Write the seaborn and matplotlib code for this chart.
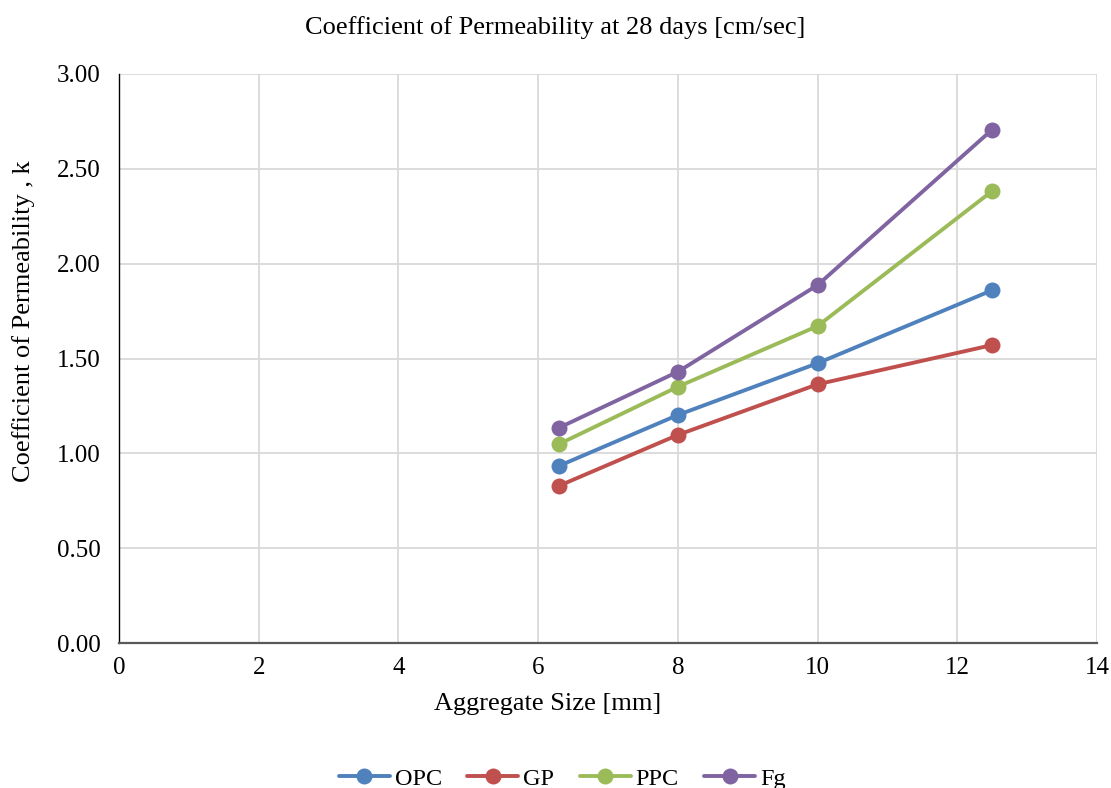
import matplotlib
matplotlib.use("Agg")
import matplotlib.pyplot as plt
import seaborn as sns
import pandas as pd

# Data
aggregate_size = [6.3, 8, 10, 12.5]
opc = [0.934, 1.202, 1.475, 1.860]
gp = [0.829, 1.097, 1.364, 1.571]
ppc = [1.049, 1.351, 1.671, 2.383]
fg = [1.135, 1.430, 1.887, 2.707]
series_names = ["OPC", "GP", "PPC", "Fg"]
colors = ["#4F81BD", "#C0504D", "#9BBB59", "#8064A2"]

rows = []
for name, vals in zip(series_names, [opc, gp, ppc, fg]):
    for x, y in zip(aggregate_size, vals):
        rows.append({"Aggregate Size": x, "k": y, "Series": name})
df = pd.DataFrame(rows)

sns.set_theme(style="white")
plt.rcParams["font.family"] = ["Liberation Serif", "DejaVu Serif"]
plt.rcParams["text.color"] = "black"
plt.rcParams["axes.labelcolor"] = "black"

fig = plt.figure(figsize=(11.11, 7.88), dpi=100)
ax = fig.add_axes([119/1111, 1 - 643/788, (1097-119)/1111, (643-74)/788])

sns.lineplot(data=df, x="Aggregate Size", y="k", hue="Series",
             hue_order=series_names, palette=colors, marker="o",
             markersize=11.5, markeredgewidth=0, linewidth=2.8, ax=ax,
             legend=True)

yt = [0, 0.5, 1.0, 1.5, 2.0, 2.5, 3.0]
ax.set_xlim(0, 14)
ax.set_ylim(0, 3.0)
ax.set_xticks(range(0, 15, 2))
ax.set_yticks(yt)
ax.set_yticklabels([f"{v:.2f}" for v in yt])
ax.grid(True, color="#D9D9D9", linewidth=1.3)
ax.set_axisbelow(True)
for s in ["top", "right"]:
    ax.spines[s].set_visible(False)
ax.spines["left"].set_color("black")
ax.spines["left"].set_linewidth(1.0)
ax.spines["bottom"].set_color("#595959")
ax.spines["bottom"].set_linewidth(1.6)
ax.tick_params(axis="both", labelsize=18, length=0, colors="black")
ax.tick_params(axis="x", pad=10)
ax.tick_params(axis="y", pad=13)

ax.set_xlabel("Aggregate Size [mm]", fontsize=19)
ax.set_ylabel("Coefficient of Permeability , k", fontsize=19)
ax.xaxis.set_label_coords(0.438, -0.088)
ax.yaxis.set_label_coords(-0.086, 0.566)
fig.text(0.5, 1 - 28/788, "Coefficient of Permeability at 28 days [cm/sec]",
         ha="center", va="center", fontsize=19)

handles, labels = ax.get_legend_handles_labels()
ax.get_legend().remove()
fig.legend(handles, labels, loc="center", bbox_to_anchor=(0.506, 0.012), ncol=4,
           frameon=False, fontsize=17.5, handlelength=2.1, columnspacing=1.05,
           handletextpad=0.2)

fig.savefig("out.png", dpi=100)
